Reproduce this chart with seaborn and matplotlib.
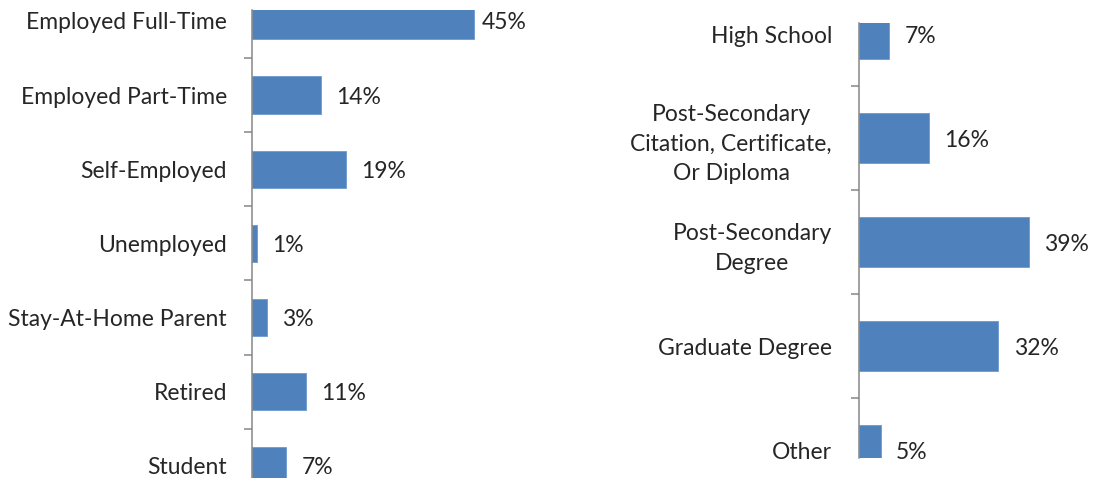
import matplotlib
matplotlib.use("Agg")
import matplotlib.pyplot as plt
import seaborn as sns

# employment status (left chart)
employment_labels = ["Employed Full-Time", "Employed Part-Time", "Self-Employed",
                     "Unemployed", "Stay-At-Home Parent", "Retired", "Student"]
employment_pct = [45, 14, 19, 1, 3, 11, 7]

# education level (right chart)
education_labels = ["High School", "Post-Secondary\nCitation, Certificate,\nOr Diploma",
                    "Post-Secondary\nDegree", "Graduate Degree", "Other"]
education_pct = [7, 16, 39, 32, 5]

sns.set_style("white")
plt.rcParams["font.family"] = ["Lato", "DejaVu Sans"]
FS = 16.5
BAR = "#4F81BD"
AXIS = "#868686"
TXT = "#262626"

fig = plt.figure(figsize=(10.94, 4.78), dpi=100)
ax1 = fig.add_axes([0.2303, 0.0, 0.2514, 0.9791])
ax2 = fig.add_axes([0.7852, 0.0418, 0.2141, 0.9107])


def draw(ax, labels, vals, width, xmax, ylim, pad):
    sns.barplot(x=vals, y=labels, orient="h", color=BAR, saturation=1,
                width=width, ax=ax, edgecolor="#6f9bd0", linewidth=0.6)
    ax.set_xlim(0, xmax)
    ax.set_ylim(*ylim)
    ax.set_xlabel("")
    ax.set_ylabel("")
    for s in ["top", "right", "bottom"]:
        ax.spines[s].set_visible(False)
    ax.spines["left"].set_color(AXIS)
    ax.spines["left"].set_linewidth(1.1)
    ax.set_xticks([])
    ax.tick_params(axis="y", which="major", left=True, length=0, pad=pad,
                   labelsize=FS, labelcolor=TXT)
    ax.set_yticks([i + 0.5 for i in range(len(labels) - 1)], minor=True)
    ax.tick_params(axis="y", which="minor", left=True, length=6, width=1.1,
                   color=AXIS, direction="out")
    for t in ax.get_yticklabels():
        t.set_multialignment("center")
        t.set_linespacing(1.5)
    notes = []
    for i, v in enumerate(vals):
        a = ax.annotate(f"{v}%", xy=(v, i), xytext=(11, 0),
                        textcoords="offset points", ha="left", va="center_baseline",
                        fontsize=FS, color=TXT, annotation_clip=False)
        notes.append(a)
    return notes


n1 = draw(ax1, employment_labels, employment_pct, 0.5, 55.8, (6.162, -0.146), 18)
n2 = draw(ax2, education_labels, education_pct, 0.48, 53.8, (4.077, -0.109), 19.5)

# keep labels inside the plot area, like the original
fig.canvas.draw()
r = fig.canvas.get_renderer()
for ax, notes in [(ax1, n1), (ax2, n2)]:
    right = ax.get_window_extent(r).x1
    for a in notes:
        bb = a.get_window_extent(r)
        if bb.x1 > right:
            a.set_position((-(bb.x1 - right) * 72 / fig.dpi + 11, 0))

fig.savefig("out.png", dpi=100)
